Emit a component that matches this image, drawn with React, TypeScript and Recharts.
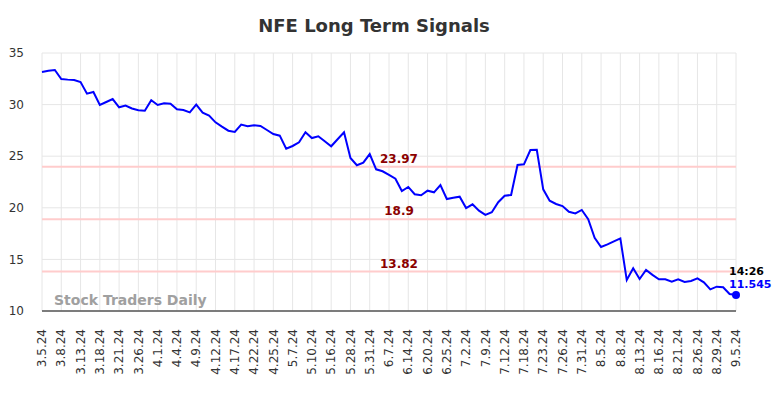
import React from 'react'
import {
  LineChart,
  Line,
  XAxis,
  YAxis,
  CartesianGrid,
  ReferenceLine,
  ReferenceDot,
} from 'recharts'

// trading dates (x categories)
const dates = [
  '3.5.24', '3.6.24', '3.7.24', '3.8.24', '3.11.24', '3.12.24', '3.13.24', '3.14.24', '3.15.24',
  '3.18.24', '3.19.24', '3.20.24', '3.21.24', '3.22.24', '3.25.24', '3.26.24', '3.27.24', '3.28.24',
  '4.1.24', '4.2.24', '4.3.24', '4.4.24', '4.5.24', '4.8.24', '4.9.24', '4.10.24', '4.11.24',
  '4.12.24', '4.15.24', '4.16.24', '4.17.24', '4.18.24', '4.19.24', '4.22.24', '4.23.24', '4.24.24',
  '4.25.24', '4.26.24', '5.6.24', '5.7.24', '5.8.24', '5.9.24', '5.10.24', '5.13.24', '5.15.24',
  '5.16.24', '5.17.24', '5.24.24', '5.28.24', '5.29.24', '5.30.24', '5.31.24', '6.4.24', '6.6.24',
  '6.7.24', '6.11.24', '6.13.24', '6.14.24', '6.17.24', '6.18.24', '6.20.24', '6.21.24', '6.24.24',
  '6.25.24', '6.26.24', '6.28.24', '7.2.24', '7.3.24', '7.5.24', '7.9.24', '7.10.24', '7.11.24',
  '7.12.24', '7.16.24', '7.17.24', '7.18.24', '7.19.24', '7.22.24', '7.23.24', '7.24.24', '7.25.24',
  '7.26.24', '7.29.24', '7.30.24', '7.31.24', '8.1.24', '8.2.24', '8.5.24', '8.6.24', '8.7.24',
  '8.8.24', '8.9.24', '8.12.24', '8.13.24', '8.14.24', '8.15.24', '8.16.24', '8.19.24', '8.20.24',
  '8.21.24', '8.22.24', '8.23.24', '8.26.24', '8.27.24', '8.28.24', '8.29.24', '9.3.24', '9.4.24',
  '9.5.24',
]

// closing prices
const prices = [
  33.16, 33.28, 33.35, 32.48, 32.42, 32.38, 32.19, 31.06, 31.22,
  29.96, 30.25, 30.54, 29.74, 29.9, 29.62, 29.45, 29.41, 30.42,
  29.96, 30.12, 30.09, 29.54, 29.48, 29.25, 30.0, 29.22, 28.93,
  28.28, 27.86, 27.47, 27.35, 28.06, 27.9, 27.99, 27.93, 27.54,
  27.15, 26.99, 25.73, 25.99, 26.35, 27.32, 26.76, 26.93, 26.44,
  25.96, 26.64, 27.32, 24.83, 24.12, 24.37, 25.21, 23.73, 23.54,
  23.18, 22.82, 21.63, 22.02, 21.31, 21.21, 21.66, 21.5, 22.21,
  20.85, 20.97, 21.08, 19.98, 20.34, 19.72, 19.32, 19.57, 20.54,
  21.17, 21.24, 24.15, 24.21, 25.6, 25.62, 21.79, 20.69, 20.37,
  20.17, 19.62, 19.46, 19.79, 18.9, 17.1, 16.2, 16.45, 16.75,
  17.04, 13.0, 14.14, 13.1, 13.97, 13.5, 13.07, 13.07, 12.84,
  13.07, 12.81, 12.91, 13.17, 12.78, 12.1, 12.36, 12.3, 11.65,
  11.545,
]

const signalLevels = [23.97, 18.9, 13.82]
const yTicks = [10, 15, 20, 25, 30, 35]
const lastTime = '14:26'
const lastLabel = '11.545'

const FONT = '"DejaVu Sans", Verdana, sans-serif'

const data = dates.map((d, i) => ({ date: d, price: prices[i] }))

function XTick({ x, y, payload }: any) {
  return (
    <g transform={`translate(${x},${y + 10})`}>
      <text
        transform="rotate(-90)"
        textAnchor="end"
        dy="0.35em"
        fontSize={12}
        fontFamily={FONT}
        fill="#333"
      >
        {payload.value}
      </text>
    </g>
  )
}

const levelLabel = (text: string) => (props: any) => {
  const vb = props.viewBox
  return (
    <text
      x={vb.x + vb.width / 2 + 10}
      y={vb.y - 4}
      textAnchor="middle"
      fontSize={12}
      fontWeight="bold"
      fontFamily={FONT}
      fill="#8b0000"
    >
      {text}
    </text>
  )
}

function LastDot({ cx, cy }: any) {
  return (
    <g>
      <circle cx={cx} cy={cy} r={4} fill="#0000ff" />
      <text x={cx - 7} y={cy - 20.5} fontSize={11} fontWeight="bold" fontFamily={FONT} fill="#000">
        {lastTime}
      </text>
      <text x={cx - 7} y={cy - 7.5} fontSize={11} fontWeight="bold" fontFamily={FONT} fill="#0000ff">
        {lastLabel}
      </text>
    </g>
  )
}

export default function App() {
  return (
    <div style={{ position: 'absolute', left: 0, top: 0, width: 784, height: 398, background: '#fff' }}>
      <LineChart width={784} height={398} data={data} margin={{ top: 53, right: 48, left: 0, bottom: 0 }}>
        <CartesianGrid stroke="#e6e6e6" strokeWidth={1} />
        <XAxis
          dataKey="date"
          interval={2}
          height={87}
          tickLine={false}
          axisLine={{ stroke: '#555', strokeWidth: 1.5 }}
          tick={<XTick />}
        />
        <YAxis
          width={42}
          domain={[10, 35]}
          ticks={yTicks}
          axisLine={false}
          tickLine={false}
          tickMargin={12}
          tick={{ fontSize: 12, fill: '#333', fontFamily: FONT }}
        />
        {signalLevels.map((lv) => (
          <ReferenceLine
            key={lv}
            y={lv}
            stroke="#ffcccc"
            strokeWidth={2}
            label={levelLabel(String(lv))}
          />
        ))}
        <Line
          type="linear"
          dataKey="price"
          stroke="#0000ff"
          strokeWidth={2}
          dot={false}
          isAnimationActive={false}
        />
        <ReferenceDot
          x={dates[dates.length - 1]}
          y={prices[prices.length - 1]}
          r={4}
          shape={<LastDot />}
        />
      </LineChart>
      <svg
        width={784}
        height={398}
        style={{ position: 'absolute', left: 0, top: 0, pointerEvents: 'none' }}
      >
        <text x={374} y={32} textAnchor="middle" fontSize={18} fontWeight="bold" fontFamily={FONT} fill="#333">
          NFE Long Term Signals
        </text>
        <text x={54} y={305} fontSize={14} fontWeight="bold" fontFamily={FONT} fill="#a0a0a0">
          Stock Traders Daily
        </text>
      </svg>
    </div>
  )
}
